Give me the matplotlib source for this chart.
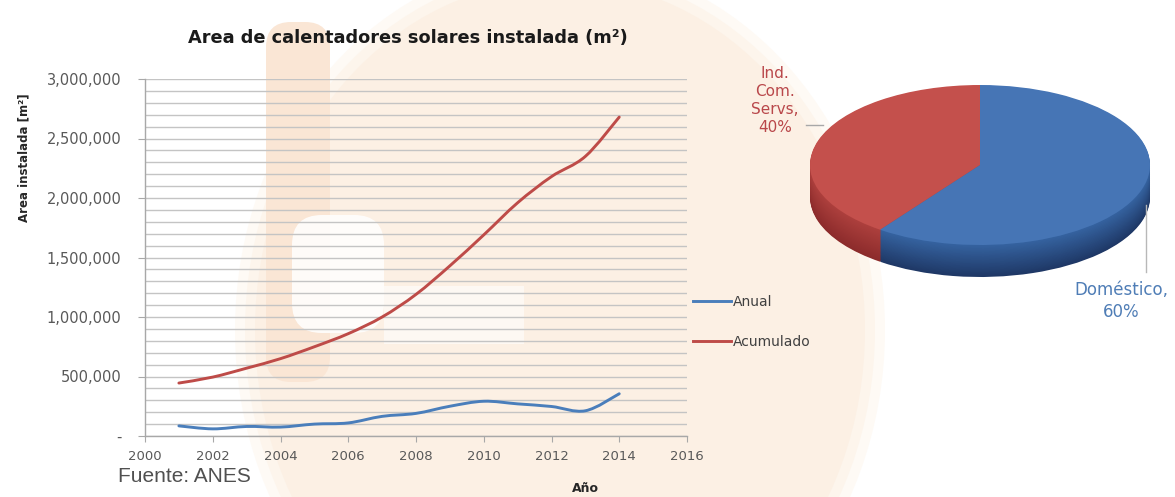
import numpy as np
import matplotlib
matplotlib.use("Agg")
import matplotlib.pyplot as plt
from matplotlib.path import Path
from matplotlib.patches import PathPatch, Ellipse, FancyBboxPatch, Rectangle
from matplotlib.lines import Line2D
from matplotlib.ticker import FuncFormatter, MultipleLocator

# ---- data -------------------------------------------------------------
years = [2001, 2002, 2003, 2004, 2005, 2006, 2007,
         2008, 2009, 2010, 2011, 2012, 2013, 2014]
anual = [85000, 60000, 80000, 75000, 100000, 110000, 165000,
         190000, 250000, 292000, 270000, 248000, 212000, 355000]
acumulado = [445000, 495000, 570000, 650000, 750000, 860000, 1000000,
             1190000, 1430000, 1690000, 1960000, 2180000, 2350000, 2680000]
series_names = ["Anual", "Acumulado"]
x_ticks = [2000, 2002, 2004, 2006, 2008, 2010, 2012, 2014, 2016]

sector_names = ["Ind.\nCom.\nServs", "Doméstico"]
sector_pct = [40, 60]

title = "Area de calentadores solares instalada (m\u00b2)"
y_title = "Area instalada [m\u00b2]"
x_title = "Año"
source = "Fuente: ANES"

# ---- figure -----------------------------------------------------------
W, H = 1175, 497
fig = plt.figure(figsize=(W / 100, H / 100), dpi=100)
fig.patch.set_facecolor("white")


def fx(px):
    return px / W


def fy(py):
    return 1 - py / H


# soft watermark in the background
bg = fig.add_axes([0, 0, 1, 1], zorder=-5)
bg.set_xlim(0, W)
bg.set_ylim(H, 0)
bg.axis("off")
for grow, col in [(40, "#fefaf5"), (20, "#fdf5ec"), (0, "#fcf0e4")]:
    bg.add_patch(Ellipse((560, 330), 610 + grow, 700 + grow, color=col, lw=0))
bg.add_patch(FancyBboxPatch((266, 22), 64, 360, boxstyle="round,pad=0,rounding_size=25",
                            color="#fae6d5", lw=0))
bg.add_patch(FancyBboxPatch((292, 215), 92, 118, boxstyle="round,pad=0,rounding_size=30",
                            color="#ffffff", alpha=0.85, lw=0))
bg.add_patch(Rectangle((384, 286), 140, 58, color="#fdf8f3", lw=0))

# ---- line chart -------------------------------------------------------
ax = fig.add_axes([fx(145), fy(436), fx(687) - fx(145), fy(79) - fy(436)])
ax.set_facecolor("none")
ax.set_xlim(2000, 2016)
ax.set_ylim(0, 3000000)

ax.yaxis.set_major_locator(MultipleLocator(500000))
ax.yaxis.set_minor_locator(MultipleLocator(100000))
ax.xaxis.set_major_locator(plt.FixedLocator(x_ticks))
ax.yaxis.set_major_formatter(FuncFormatter(lambda v, p: "-" if v == 0 else f"{v:,.0f}"))
ax.grid(True, which="both", axis="y", color="#c4c4c4", lw=1.0)
ax.set_axisbelow(True)
for s in ("top", "right"):
    ax.spines[s].set_visible(False)
for s in ("left", "bottom"):
    ax.spines[s].set_color("#a8a8a8")
    ax.spines[s].set_linewidth(1.0)
ax.tick_params(axis="y", which="major", length=5, color="#a8a8a8", pad=12,
               labelsize=10.5, labelcolor="#595959")
ax.tick_params(axis="y", which="minor", length=0)
ax.tick_params(axis="x", length=4, color="#a8a8a8", pad=6,
               labelsize=9.5, labelcolor="#595959")


def smooth_path(xs, ys):
    n = len(xs)
    verts = [(xs[0], ys[0])]
    codes = [Path.MOVETO]
    for i in range(n - 1):
        a = max(i - 1, 0)
        b = min(i + 2, n - 1)
        c1 = (xs[i] + (xs[i + 1] - xs[a]) / 6, ys[i] + (ys[i + 1] - ys[a]) / 6)
        c2 = (xs[i + 1] - (xs[b] - xs[i]) / 6, ys[i + 1] - (ys[b] - ys[i]) / 6)
        verts += [c1, c2, (xs[i + 1], ys[i + 1])]
        codes += [Path.CURVE4] * 3
    return Path(verts, codes)


line_colors = ["#4a7ebb", "#be4b48"]
for vals, col in zip([anual, acumulado], line_colors):
    ax.add_patch(PathPatch(smooth_path(years, vals), fill=False, edgecolor=col,
                           lw=2.1, capstyle="round", joinstyle="round", zorder=3))

handles = [Line2D([], [], color=c, lw=2.1) for c in line_colors]
leg = ax.legend(handles, series_names, loc="center left",
                bbox_to_anchor=(fx(693 - 145) / fx(687 - 145), (436 - 322) / (436 - 79)),
                frameon=False, fontsize=10, handlelength=2.7, handletextpad=0.15,
                labelspacing=1.9, borderaxespad=0, borderpad=0)
for t in leg.get_texts():
    t.set_color("#404040")

fig.text(fx(408), fy(38), title, ha="center", va="center",
         fontsize=12.8, fontweight="bold", color="#1a1a1a")
fig.text(fx(24), fy(158), y_title, ha="center", va="center", rotation=90,
         fontsize=8.5, fontweight="bold", color="#262626")
fig.text(fx(585), fy(489), x_title, ha="center", va="center",
         fontsize=9, fontweight="bold", color="#262626")
fig.text(fx(118), fy(476), source, ha="left", va="center",
         fontsize=15, family="Liberation Sans", color="#505050")

# ---- 3D-looking pie ---------------------------------------------------
cx, cy, rx, ry = 980, 165, 170, 80
px0, px1, py0, py1 = 790, 1170, 60, 300
pax = fig.add_axes([fx(px0), fy(py1), fx(px1) - fx(px0), fy(py0) - fy(py1)])
depth = 32 / ry
top_cols = ["#c4504c", "#4675b5"]
side_hi = [np.array([0.68, 0.25, 0.24]), np.array([0.21, 0.39, 0.63])]
side_lo = [np.array([0.55, 0.17, 0.17]), np.array([0.12, 0.22, 0.40])]
n_layers = 40
for k in range(n_layers, 0, -1):
    t = k / n_layers
    cols = [tuple(h * (1 - t) + l * t) for h, l in zip(side_hi, side_lo)]
    pax.pie(sector_pct, colors=cols, startangle=90, counterclock=True,
            center=(0, -depth * t), radius=1.0,
            wedgeprops=dict(linewidth=0, antialiased=True))
pax.pie(sector_pct, colors=top_cols, startangle=90, counterclock=True,
        center=(0, 0), radius=1.0, wedgeprops=dict(linewidth=0))
pax.set_aspect("auto")
pax.set_xlim((px0 - cx) / rx, (px1 - cx) / rx)
pax.set_ylim(-(py1 - cy) / ry, (cy - py0) / ry)
pax.axis("off")

label_cols = ["#b9474a", "#4f7db6"]
fig.text(fx(775), fy(100), f"{sector_names[0]},\n{sector_pct[0]}%", ha="center",
         va="center", fontsize=11, color=label_cols[0], linespacing=1.25)
fig.text(fx(1121), fy(301), f"{sector_names[1]},\n{sector_pct[1]}%", ha="center",
         va="center", fontsize=12, color=label_cols[1], linespacing=1.3)
fig.add_artist(Line2D([fx(806), fx(823)], [fy(125), fy(125)], color="#a8a8a8", lw=1))
fig.add_artist(Line2D([fx(1146), fx(1146)], [fy(205), fy(272)], color="#b8b8b8", lw=1))

fig.savefig("out.png", dpi=100, facecolor="white")
